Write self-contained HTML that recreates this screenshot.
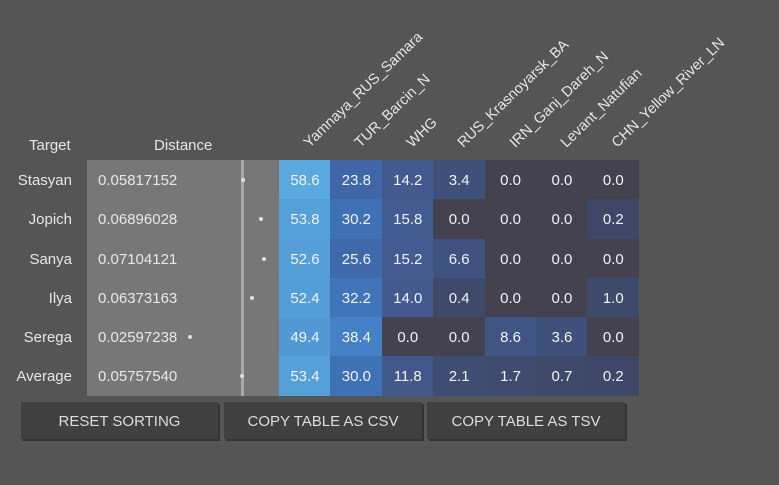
<!DOCTYPE html>
<html><head><meta charset="utf-8"><style>
body{margin:0;width:779px;height:485px;background:#555;font-family:"Liberation Sans",Arial,sans-serif;color:#e6e6e6;position:relative;overflow:hidden}
.a{position:absolute}
.hdr{font-size:14.6px;white-space:nowrap;transform-origin:0 100%;transform:rotate(-44deg);line-height:16px}
.cell{position:absolute;font-size:15px;text-align:center;line-height:41px;height:39.3px;color:#f2f2f2}
.btn{position:absolute;top:402px;height:37px;background:#404040;box-shadow:2px 2px 0 #333;font-size:15px;line-height:39px;text-align:center;color:#ddd;cursor:pointer}
</style></head><body>
<div class="a" style="left:29px;top:137px;font-size:15px">Target</div>
<div class="a" style="left:154px;top:137px;font-size:15px">Distance</div>
<div class="a" style="left:87px;top:160px;width:192px;height:235.5px;background:#777"></div>
<div id="avg" class="a" style="top:160px;width:3px;height:235.5px;background:#a8a8a8"></div>
<div id="t"></div>
<div class="btn" style="left:21px;width:197px">RESET SORTING</div>
<div class="btn" style="left:224px;width:198px">COPY TABLE AS CSV</div>
<div class="btn" style="left:427px;width:198px">COPY TABLE AS TSV</div>
<script>
const columns=["Yamnaya_RUS_Samara","TUR_Barcin_N","WHG","RUS_Krasnoyarsk_BA","IRN_Ganj_Dareh_N","Levant_Natufian","CHN_Yellow_River_LN"];
const targets=["Stasyan","Jopich","Sanya","Ilya","Serega","Average"];
const distances=[0.05817152,0.06896028,0.07104121,0.06373163,0.02597238,0.05757540];
const values=[
[58.6,23.8,14.2,3.4,0.0,0.0,0.0],
[53.8,30.2,15.8,0.0,0.0,0.0,0.2],
[52.6,25.6,15.2,6.6,0.0,0.0,0.0],
[52.4,32.2,14.0,0.4,0.0,0.0,1.0],
[49.4,38.4,0.0,0.0,8.6,3.6,0.0],
[53.4,30.0,11.8,2.1,1.7,0.7,0.2]];
const T=document.getElementById('t');
const y0=160,rh=39.25,x0=279,cw=51.4;
const distX=d=>242+(d-distances[distances.length-1])*1632;
document.getElementById('avg').style.left=(distX(distances[distances.length-1])-1.5)+'px';
const stops=[[0,[69,66,80]],[0.1,[62,71,102]],[3,[63,80,121]],[14,[67,90,142]],[24,[63,102,166]],[30,[63,113,181]],[38,[68,128,198]],[53,[85,159,216]],[59,[90,170,224]]];
function col(v){if(v<=0)return'rgb(69,66,80)';for(let i=1;i<stops.length;i++){if(v<=stops[i][0]||i==stops.length-1){const a=stops[i-1],b=stops[i];let f=Math.min(1,(v-a[0])/(b[0]-a[0]));return'rgb('+a[1].map((c,k)=>Math.round(c+(b[1][k]-c)*f)).join(',')+')';}}}
columns.forEach((c,j)=>{const d=document.createElement('div');d.className='a hdr';


d.textContent=c;d.style.left=(x0+j*cw+33)+'px';d.style.top=(135)+'px';T.appendChild(d);});
targets.forEach((n,i)=>{const y=y0+i*rh;
let e=document.createElement('div');e.className='a';


e.style.cssText=`right:${779-72}px;top:${y}px;line-height:41px;font-size:15px`;e.textContent=n;T.appendChild(e);
e=document.createElement('div');e.className='a';


e.style.cssText=`left:98px;top:${y}px;line-height:41px;font-size:15px;color:#e8e8e8`;e.textContent=distances[i].toFixed(8);T.appendChild(e);
e=document.createElement('div');e.className='a';


e.style.cssText=`left:${distX(distances[i])-2}px;top:${y+18}px;width:4px;height:4px;border-radius:2px;background:#e0e0e0`;T.appendChild(e);
values[i].forEach((v,j)=>{const c=document.createElement('div');c.className='cell';


c.style.left=(x0+j*cw)+'px';c.style.top=y+'px';c.style.width=(cw+0.5)+'px';c.style.background=col(v);c.textContent=v.toFixed(1);T.appendChild(c);});
});
</script>
</body></html>
